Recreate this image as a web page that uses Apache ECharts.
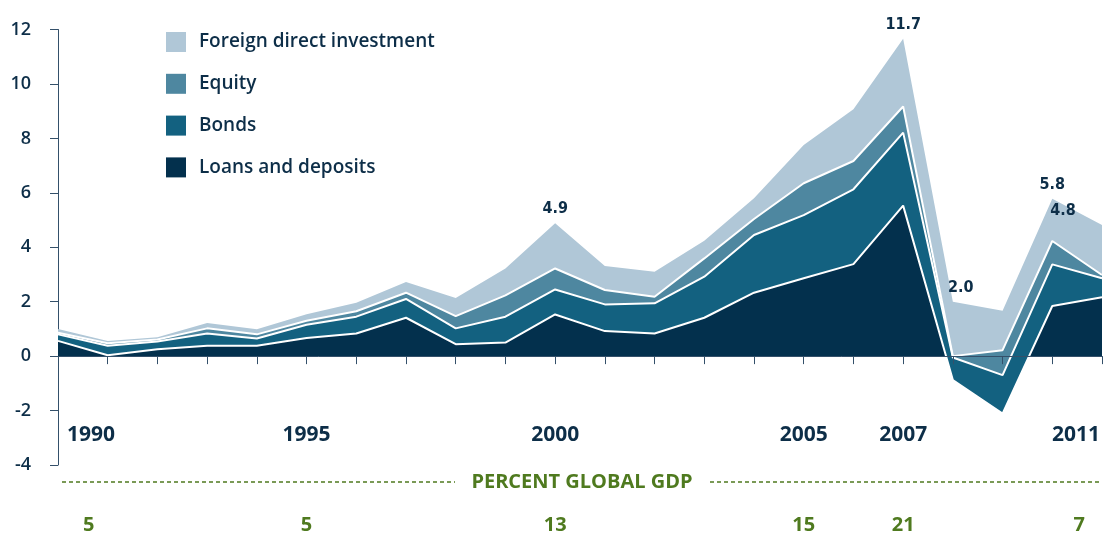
<!DOCTYPE html>
<html>
<head>
    <meta charset="UTF-8">
    <title>Cross-border capital flows</title>
    <script src="https://cdn.jsdelivr.net/npm/echarts@6/dist/echarts.min.js"></script>
    <style>
        html, body { margin: 0; padding: 0; background: #fff; }
        #main { width: 1103px; height: 533px; }
    </style>
</head>
<body>
<div id="main"></div>
<script type="text/javascript">
    // years on the category axis
    var years = ['1990','1991','1992','1993','1994','1995','1996','1997','1998','1999','2000',
                 '2001','2002','2003','2004','2005','2006','2007','2008','2009','2010','2011'];

    // layers, % of global GDP (stacked cumulatively, negatives included)
    var loans  = [0.56, 0.03, 0.25, 0.38, 0.38, 0.67, 0.83, 1.41, 0.44, 0.50, 1.53,
                  0.92, 0.83, 1.41, 2.33, 2.86, 3.38, 5.53, -0.88, -2.11, 1.84, 2.16];
    var bonds  = [0.24, 0.35, 0.29, 0.45, 0.27, 0.48, 0.62, 0.69, 0.58, 0.95, 0.92,
                  0.98, 1.11, 1.51, 2.12, 2.32, 2.75, 2.68, 0.83, 1.41, 1.53, 0.70];
    var equity = [0.06, 0.09, 0.07, 0.19, 0.15, 0.15, 0.20, 0.23, 0.45, 0.78, 0.77,
                  0.53, 0.24, 0.67, 0.59, 1.17, 1.04, 0.96, 0.05, 0.92, 0.86, 0.12];
    var fdi    = [0.14, 0.09, 0.08, 0.20, 0.19, 0.24, 0.31, 0.39, 0.67, 0.99, 1.66,
                  0.88, 0.92, 0.65, 0.76, 1.41, 1.90, 2.49, 2.00, 1.45, 1.55, 1.84];

    // totals written on the chart
    var totalYears = ['2000', '2007', '2008', '2010', '2011'];
    var totalTexts = ['4.9', '11.7', '2.0', '5.8', '4.8'];

    // years shown under the axis, and the percent of global GDP row
    var shownYears = ['1990', '1995', '2000', '2005', '2007', '2011'];
    var gdpPercent = ['5', '5', '13', '15', '21', '7'];

    var NAVY = '#0d2e48';
    var GREEN = '#4f7a1f';
    var FONT = "'Open Sans', 'DejaVu Sans', sans-serif";
    var NARROW = "'DejaVu Sans Condensed', 'Liberation Sans Narrow', sans-serif";

    // little nudges for the total labels
    var labelNudge = { '2008': [8, 0], '2011': [-39, 0] };

    var fdiData = fdi.map(function (v, i) {
        var k = totalYears.indexOf(years[i]);
        if (k < 0) return v;
        return {
            value: v,
            label: {
                show: true,
                formatter: totalTexts[k],
                offset: labelNudge[years[i]] || [0, 0]
            }
        };
    });

    function layer(name, data, color, white) {
        return {
            name: name,
            type: 'line',
            stack: 'total',
            stackStrategy: 'all',
            data: data,
            color: color,
            symbol: 'circle',
            symbolSize: 0,
            showSymbol: true,
            lineStyle: white ? { color: '#fff', width: 2 } : { width: 0, opacity: 0 },
            itemStyle: { color: color },
            areaStyle: { color: color, opacity: 1 },
            label: {
                show: false,
                position: 'top',
                distance: 6,
                color: NAVY,
                fontFamily: NARROW,
                fontWeight: 'bold',
                fontSize: 16
            },
            emphasis: { disabled: true },
            animation: false
        };
    }

    // labels for one of the two label rows under the chart
    function labelAxis(texts, color, size, margin, padFirst, padLast) {
        return {
            type: 'category',
            data: years,
            boundaryGap: false,
            position: 'bottom',
            axisLine: { show: false, onZero: false },
            axisTick: { show: false },
            axisLabel: {
                interval: 0,
                margin: margin,
                color: color,
                fontFamily: FONT,
                fontWeight: 'bold',
                fontSize: size,
                alignMinLabel: 'left',
                alignMaxLabel: 'right',
                formatter: function (v) {
                    var k = shownYears.indexOf(v);
                    if (k < 0) return '';
                    if (v === years[0]) return '{a|' + texts[k] + '}';
                    if (v === years[years.length - 1]) return '{b|' + texts[k] + '}';
                    return texts[k];
                },
                rich: {
                    a: { padding: [0, 0, 0, padFirst], color: color, fontFamily: FONT, fontWeight: 'bold', fontSize: size },
                    b: { padding: [0, padLast, 0, 0], color: color, fontFamily: FONT, fontWeight: 'bold', fontSize: size }
                }
            },
            splitLine: { show: false }
        };
    }

    var myChart = echarts.init(document.getElementById('main'));
    var option = {
        animation: false,
        grid: { left: 58, right: 1, top: 29.5, bottom: 68, containLabel: false, outerBoundsMode: 'none' },
        legend: {
            orient: 'vertical',
            left: 166,
            top: 32,
            padding: 0,
            itemWidth: 20,
            itemHeight: 20,
            itemGap: 21.8,
            icon: 'rect',
            data: ['Foreign direct investment', 'Equity', 'Bonds', 'Loans and deposits'],
            textStyle: { color: NAVY, fontSize: 19, fontFamily: FONT, fontWeight: 600, padding: [0, 0, 0, 8] },
            selectedMode: false
        },
        xAxis: [
            {
                type: 'category',
                data: years,
                boundaryGap: false,
                z: 5,
                axisLine: { onZero: true, lineStyle: { color: '#34506a', width: 1 } },
                axisTick: { show: true, interval: 0, length: 8, lineStyle: { color: '#34506a' } },
                axisLabel: { show: false },
                splitLine: { show: false }
            },
            labelAxis(shownYears, NAVY, 21, -40, 9, 2),
            labelAxis(gdpPercent, GREEN, 20, 50, 25, 17)
        ],
        yAxis: {
            type: 'value',
            min: -4,
            max: 12,
            interval: 2,
            axisLine: { show: true, lineStyle: { color: '#34506a', width: 1 } },
            axisTick: { show: true, length: 8, lineStyle: { color: '#34506a' } },
            axisLabel: { margin: 27, color: NAVY, fontFamily: FONT, fontWeight: 600, fontSize: 18 },
            splitLine: { show: false }
        },
        graphic: [
            {
                type: 'line',
                shape: { x1: 62, y1: 482, x2: 455, y2: 482 },
                style: { stroke: GREEN, lineWidth: 1.4, lineDash: [4, 3] }
            },
            {
                type: 'line',
                shape: { x1: 710, y1: 482, x2: 1101, y2: 482 },
                style: { stroke: GREEN, lineWidth: 1.4, lineDash: [4, 3] }
            },
            {
                type: 'text',
                x: 582,
                y: 482,
                style: {
                    text: 'PERCENT GLOBAL GDP',
                    fill: GREEN,
                    font: 'bold 20px ' + FONT,
                    textAlign: 'center',
                    textVerticalAlign: 'middle'
                }
            }
        ],
        series: [
            layer('Loans and deposits', loans, '#03304d', true),
            layer('Bonds', bonds, '#136180', true),
            layer('Equity', equity, '#4e87a0', true),
            layer('Foreign direct investment', fdiData, '#b0c7d7', false)
        ]
    };
    myChart.setOption(option);
</script>
</body>
</html>
